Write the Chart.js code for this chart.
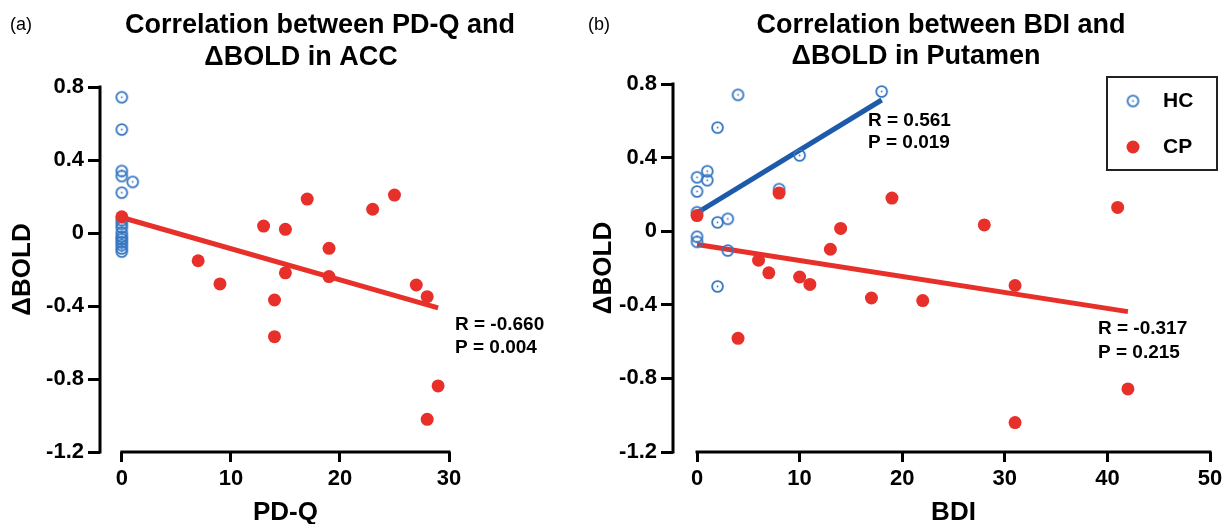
<!DOCTYPE html>
<html>
<head>
<meta charset="utf-8">
<script src="https://cdn.jsdelivr.net/npm/chart.js@4.4.1/dist/chart.umd.min.js"></script>
<style>
  body { margin: 0; background: #fff; }
  #wrap { position: relative; width: 1230px; height: 524px; overflow: hidden; }
  .panel { position: absolute; top: 0; height: 524px; }
  #left { left: 0; width: 585px; }
  #right { left: 585px; width: 645px; }
  .tag { position: absolute; top: 14px; line-height: 20px; font: 18px "Liberation Sans", Arial, sans-serif; color: #000; }
</style>
</head>
<body>
<div id="wrap">
  <div class="panel" id="left"><canvas id="chartA" width="585" height="524"></canvas></div>
  <div class="panel" id="right"><canvas id="chartB" width="645" height="524"></canvas></div>
  <div class="tag" style="left:10px">(a)</div>
  <div class="tag" style="left:588px">(b)</div>
</div>
<script>
// ---- data ----
const yTicks = [-1.2, -0.8, -0.4, 0, 0.4, 0.8];

// (a) PD-Q vs dBOLD in ACC
const pdqTicks = [0, 10, 20, 30];
const pdqHC = [0, 0, 0, 0, 1, 0, 0, 0, 0, 0, 0, 0, 0, 0, 0, 0];
const accHC = [0.744, 0.567, 0.34, 0.312, 0.28, 0.221, 0.07, 0.05, 0.03, 0.002, -0.02, -0.034, -0.05, -0.066, -0.085, -0.102];
const pdqCP = [0, 13, 15, 17, 23, 25, 19, 7, 9, 15, 19, 14, 14, 27, 28, 29, 28];
const accCP = [0.089, 0.038, 0.02, 0.186, 0.13, 0.208, -0.084, -0.152, -0.279, -0.218, -0.239, -0.367, -0.568, -0.285, -0.349, -0.838, -1.021];
const accFitX = [0, 29];
const accFitCP = [0.085, -0.41];

// (b) BDI vs dBOLD in Putamen
const bdiTicks = [0, 10, 20, 30, 40, 50];
const bdiHC = [0, 0, 0, 0, 0, 1, 1, 2, 2, 2, 3, 3, 4, 8, 10, 18];
const putHC = [0.293, 0.216, 0.103, -0.03, -0.058, 0.326, 0.277, 0.563, 0.048, -0.30, 0.067, -0.105, 0.741, 0.229, 0.412, 0.759];
const bdiCP = [0, 4, 6, 7, 8, 10, 11, 13, 14, 17, 19, 22, 28, 31, 31, 41, 42];
const putCP = [0.085, -0.582, -0.158, -0.226, 0.207, -0.249, -0.289, -0.098, 0.015, -0.363, 0.18, -0.377, 0.034, -0.295, -1.04, 0.129, -0.857];
const putFitHCX = [0, 18];
const putFitHC = [0.1, 0.713];
const putFitCPX = [0, 42];
const putFitCP = [-0.072, -0.437];

const FONT = '"Liberation Sans", Arial, Helvetica, sans-serif';
const RED = '#E8302A';
const BLUE = '#3475C0';
const BLUE_LINE = '#1D5BAA';

// open circle with a dot in the middle (HC marker)
function hcMarker() {
  const c = document.createElement('canvas');
  c.width = 15; c.height = 15;
  const g = c.getContext('2d');
  g.strokeStyle = BLUE;
  g.lineWidth = 1.8;
  g.beginPath(); g.arc(7.5, 7.5, 5.4, 0, Math.PI * 2); g.stroke();
  g.fillStyle = BLUE;
  g.beginPath(); g.arc(7.5, 7.5, 0.9, 0, Math.PI * 2); g.fill();
  return c;
}
const HC_IMG = hcMarker();

const pts = (xs, ys) => xs.map((x, i) => ({ x: x, y: ys[i] }));

// titles, notes, axis lines, legend
const decor = {
  id: 'decor',
  beforeDatasetsDraw(chart) {
    const ctx = chart.ctx, x = chart.scales.x, y = chart.scales.y;
    const xt = chart.options.plugins.decor.xTicks;
    ctx.save();
    ctx.strokeStyle = '#000';
    ctx.lineWidth = 3;
    ctx.lineCap = 'square';
    ctx.beginPath();
    ctx.moveTo(chart.chartArea.left, y.getPixelForValue(yTicks[yTicks.length - 1]));
    ctx.lineTo(chart.chartArea.left, y.getPixelForValue(yTicks[0]));
    ctx.moveTo(x.getPixelForValue(xt[0]), chart.chartArea.bottom);
    ctx.lineTo(x.getPixelForValue(xt[xt.length - 1]), chart.chartArea.bottom);
    ctx.stroke();
    ctx.restore();
  },
  afterDraw(chart) {
    const o = chart.options.plugins.decor;
    const ctx = chart.ctx, x = chart.scales.x;
    ctx.save();
    ctx.fillStyle = '#000';
    ctx.textAlign = 'center';
    ctx.textBaseline = 'alphabetic';
    ctx.font = 'bold 27px ' + FONT;
    o.title.forEach((t, i) => ctx.fillText(t, o.titleX[i], o.titleY[i]));

    // x axis title, centred under the drawn axis line
    ctx.font = 'bold 26px ' + FONT;
    const mid = (x.getPixelForValue(o.xTicks[0]) + x.getPixelForValue(o.xTicks[o.xTicks.length - 1])) / 2;
    ctx.fillText(o.xTitle, mid, 520);

    ctx.textAlign = 'left';
    ctx.font = 'bold 19px ' + FONT;
    o.notes.forEach(n => ctx.fillText(n.text, n.x, n.y));

    if (o.legend) {
      const L = o.legend;
      ctx.strokeStyle = '#222';
      ctx.lineWidth = 2;
      ctx.strokeRect(L.x, L.y, L.w, L.h);
      const ds = chart.data.datasets;
      ctx.font = 'bold 21px ' + FONT;
      L.items.forEach(it => {
        const d = ds[it.ds];
        if (d.pointStyle === 'circle') {
          ctx.fillStyle = d.backgroundColor;
          ctx.beginPath(); ctx.arc(L.mx, it.y - 6, d.pointRadius, 0, Math.PI * 2); ctx.fill();
        } else {
          ctx.drawImage(d.pointStyle, L.mx - 7.5, it.y - 13.5);
        }
        ctx.fillStyle = '#000';
        ctx.fillText(d.label, L.tx, it.y);
      });
    }
    ctx.restore();
  }
};

function buildChart(id, o) {
  const tickFont = { family: FONT, size: 22, weight: 'bold' };
  const titleFont = { family: FONT, size: 26, weight: 'bold', lineHeight: 1 };
  const datasets = [
    { label: 'CP', data: pts(o.cpX, o.cpY), pointStyle: 'circle', pointRadius: 6.5, backgroundColor: RED, borderWidth: 0, order: 1, clip: false },
    { label: 'HC', data: pts(o.hcX, o.hcY), pointStyle: HC_IMG, pointRadius: 7, order: 2, clip: false }
  ];
  o.fits.forEach((f, i) => datasets.push({
    label: 'fit' + i, data: pts(f.x, f.y), showLine: true, pointRadius: 0,
    borderColor: f.color, borderWidth: 5, order: 3 + i, clip: false
  }));
  return new Chart(document.getElementById(id), {
    type: 'scatter',
    data: { datasets: datasets },
    options: {
      responsive: false,
      animation: false,
      devicePixelRatio: 1,
      layout: { padding: { top: o.top, right: o.right, left: 0, bottom: 0 } },
      plugins: {
        legend: { display: false },
        tooltip: { enabled: false },
        decor: Object.assign({ xTicks: o.xTicks, xTitle: o.xTitle }, o.decor)
      },
      scales: {
        x: {
          type: 'linear', min: o.xMin, max: o.xTicks[o.xTicks.length - 1],
          afterBuildTicks: s => { s.ticks = o.xTicks.map(v => ({ value: v })); },
          afterFit: s => { s.height = 72; },
          grid: { display: true, drawOnChartArea: false, drawTicks: true, tickLength: 10, lineWidth: 3, color: '#000' },
          border: { display: false },
          ticks: { font: tickFont, color: '#000', padding: 4, maxRotation: 0, autoSkip: false },
          title: { display: false }
        },
        y: {
          min: yTicks[0], max: yTicks[yTicks.length - 1],
          afterBuildTicks: s => { s.ticks = yTicks.map(v => ({ value: v })); },
          afterFit: s => { s.width = o.yWidth; },
          grid: { display: true, drawOnChartArea: false, drawTicks: true, tickLength: 12, lineWidth: 3, color: '#000' },
          border: { display: false },
          ticks: { font: tickFont, color: '#000', padding: 4, callback: v => (v === 0 ? '0' : v.toFixed(1)) },
          title: { display: true, text: '\u0394BOLD', font: titleFont, color: '#000', padding: { top: o.yTitlePad, bottom: 0 } }
        }
      }
    },
    plugins: [decor]
  });
}

buildChart('chartA', {
  hcX: pdqHC, hcY: accHC, cpX: pdqCP, cpY: accCP,
  fits: [{ x: accFitX, y: accFitCP, color: RED }],
  xTicks: pdqTicks, xMin: -2.0, xTitle: 'PD-Q',
  top: 87, right: 136, yWidth: 100, yTitlePad: 10,
  decor: {
    title: ['Correlation between PD-Q and', '\u0394BOLD in ACC'], titleX: [320, 301], titleY: [33, 65],
    notes: [{ text: 'R = -0.660', x: 455, y: 330 }, { text: 'P = 0.004', x: 455, y: 353 }]
  }
});

buildChart('chartB', {
  hcX: bdiHC, hcY: putHC, cpX: bdiCP, cpY: putCP,
  fits: [{ x: putFitHCX, y: putFitHC, color: BLUE_LINE }, { x: putFitCPX, y: putFitCP, color: RED }],
  xTicks: bdiTicks, xMin: -2.34, xTitle: 'BDI',
  top: 84, right: 20, yWidth: 88, yTitlePad: 6,
  decor: {
    title: ['Correlation between BDI and', '\u0394BOLD in Putamen'], titleX: [356, 331], titleY: [33, 64],
    notes: [
      { text: 'R = 0.561', x: 283, y: 126 }, { text: 'P = 0.019', x: 283, y: 148 },
      { text: 'R = -0.317', x: 513, y: 334 }, { text: 'P = 0.215', x: 513, y: 358 }
    ],
    legend: { x: 522, y: 77, w: 110, h: 93, mx: 548, tx: 578, items: [{ ds: 1, y: 107 }, { ds: 0, y: 153 }] }
  }
});
</script>
</body>
</html>
